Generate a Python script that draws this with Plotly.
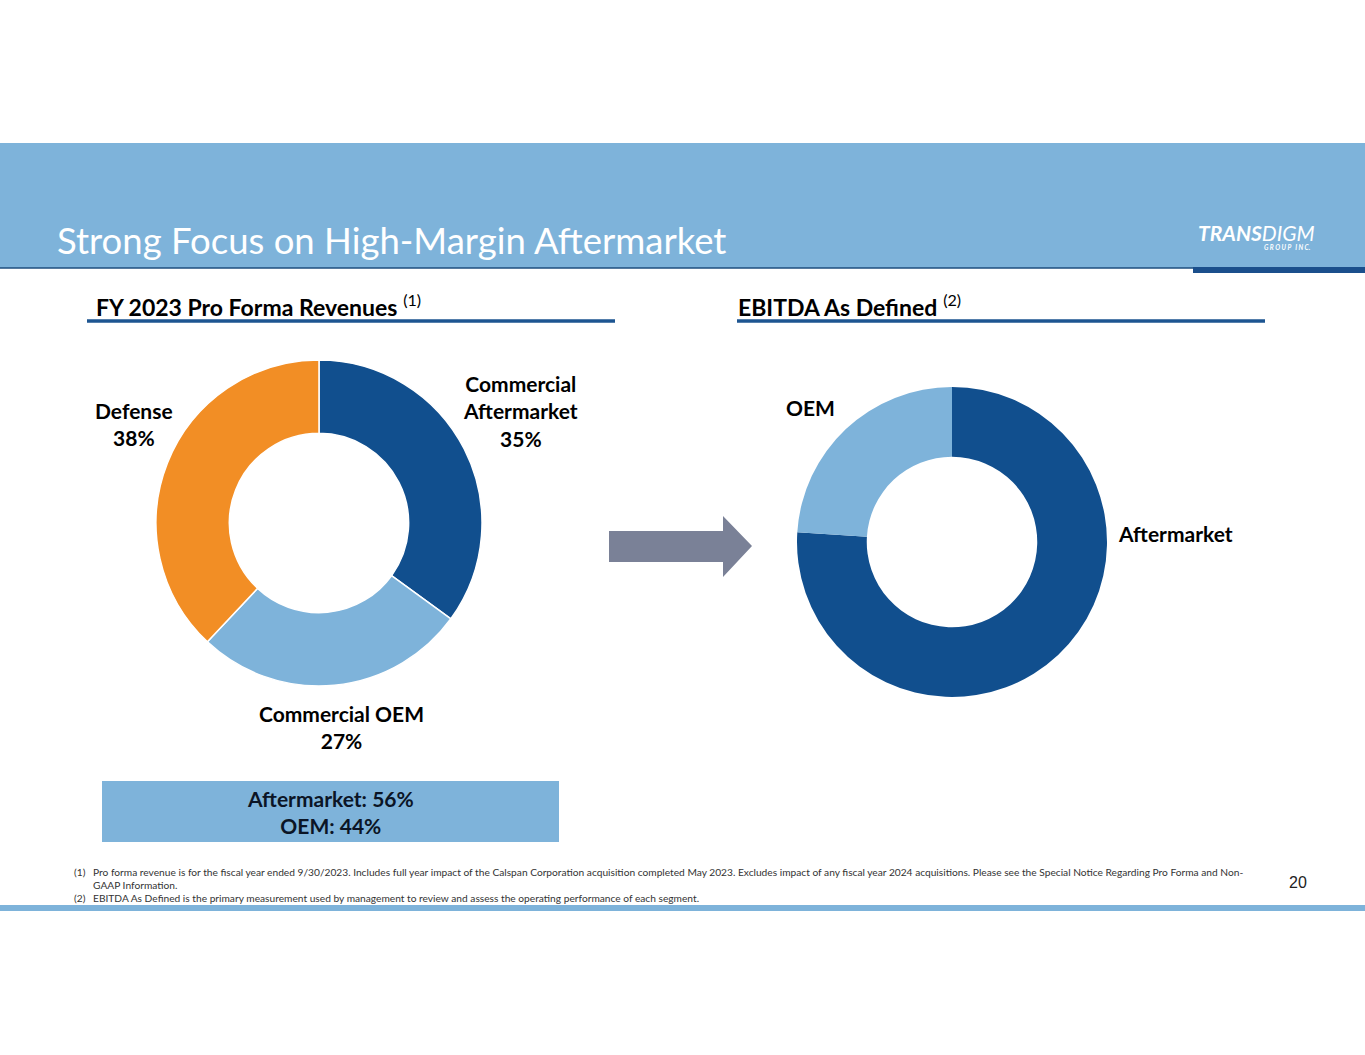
import plotly.graph_objects as go

W, H = 1365, 1055

# revenue mix (left donut) and EBITDA mix (right donut)
revLabels = ["Commercial Aftermarket", "Commercial OEM", "Defense"]
revValues = [35, 27, 38]
revColors = ["#114F8E", "#7EB3DA", "#F28E25"]

ebitdaLabels = ["Aftermarket", "OEM"]
ebitdaValues = [76, 24]
ebitdaColors = ["#114F8E", "#7EB3DA"]

boxLines = ["Aftermarket: 56%", "OEM: 44%"]

footnotes = [
    ("(1)", "Pro forma revenue is for the fiscal year ended 9/30/2023. Includes full year impact of the Calspan Corporation acquisition completed May 2023. Excludes impact of any fiscal year 2024 acquisitions. Please see the Special Notice Regarding Pro Forma and Non-<br>GAAP Information."),
    ("(2)", "EBITDA As Defined is the primary measurement used by management to review and assess the operating performance of each segment."),
]

FONT = "Lato"


def px(x):
    return x / W


def py(y):
    return 1 - y / H


fig = go.Figure()

fig.add_trace(go.Pie(
    labels=revLabels, values=revValues, hole=0.55, sort=False,
    direction="clockwise", rotation=0, textinfo="none", hoverinfo="label+percent",
    marker=dict(colors=revColors, line=dict(color="white", width=1.5)),
    domain=dict(x=[px(156), px(482)], y=[py(686), py(360)]),
    showlegend=False,
))
fig.add_trace(go.Pie(
    labels=ebitdaLabels, values=ebitdaValues, hole=0.55, sort=False,
    direction="clockwise", rotation=0, textinfo="none", hoverinfo="label+percent",
    marker=dict(colors=ebitdaColors, line=dict(width=0)),
    domain=dict(x=[px(797), px(1107)], y=[py(697), py(387)]),
    showlegend=False,
))

shapes = []
# header band
shapes.append(dict(type="rect", xref="paper", yref="paper", x0=0, x1=1, y0=py(268), y1=py(143),
                   fillcolor="#7EB3DA", line=dict(width=0), layer="below"))
shapes.append(dict(type="line", xref="paper", yref="paper", x0=0, x1=1, y0=py(268), y1=py(268),
                   line=dict(color="#1E4E7E", width=1.5)))
shapes.append(dict(type="rect", xref="paper", yref="paper", x0=px(1193), x1=1, y0=py(273), y1=py(267),
                   fillcolor="#1B4F8C", line=dict(width=0)))
# section underlines
for x0, x1 in [(87, 615), (737, 1265)]:
    shapes.append(dict(type="line", xref="paper", yref="paper", x0=px(x0), x1=px(x1), y0=py(321), y1=py(321),
                       line=dict(color="#1D5591", width=3.5)))
# summary box
shapes.append(dict(type="rect", xref="paper", yref="paper", x0=px(102), x1=px(559), y0=py(842), y1=py(781),
                   fillcolor="#7EB3DA", line=dict(width=0)))
# arrow
arrow = "M {} {} L {} {} L {} {} L {} {} L {} {} L {} {} L {} {} Z".format(
    px(609), py(531), px(723), py(531), px(723), py(516), px(752), py(546),
    px(723), py(577), px(723), py(562), px(609), py(562))
shapes.append(dict(type="path", xref="paper", yref="paper", path=arrow,
                   fillcolor="#7A8197", line=dict(width=0)))
# footer line
shapes.append(dict(type="rect", xref="paper", yref="paper", x0=0, x1=1, y0=py(911), y1=py(905),
                   fillcolor="#7EB3DA", line=dict(width=0)))

ann = []


def label(text, x, y, size=21, color="#000000", xanchor="center", yanchor="middle", align="center", family=FONT):
    ann.append(dict(text=text, x=px(x), y=py(y), xref="paper", yref="paper", showarrow=False,
                    xanchor=xanchor, yanchor=yanchor, align=align,
                    font=dict(family=family, size=size, color=color)))


label("Strong Focus on High-Margin Aftermarket", 55, 240, size=36.5, color="white", xanchor="left")
label("<b><i>TRANS</i></b><i>DIGM</i>", 1196, 232, size=21, color="white", xanchor="left")
label("<b><i>G R O U P   I N C.</i></b>", 1313, 248, size=6.5, color="white", xanchor="right")

label("<b>FY 2023 Pro Forma Revenues</b> <sup>(1)</sup>", 94, 305, size=23, xanchor="left")
label("<b>EBITDA As Defined</b> <sup>(2)</sup>", 736, 305, size=23, xanchor="left")

label("<b>Commercial<br>Aftermarket<br>35%</b>", 520, 411)
label("<b>Defense<br>38%</b>", 134, 424)
label("<b>Commercial OEM<br>27%</b>", 341, 727)
label("<b>OEM</b>", 810, 407)
label("<b>Aftermarket</b>", 1175, 533)

label("<b>" + "<br>".join(boxLines) + "</b>", 330, 812, size=21, color="#0B1526")

yy = 864
for num, txt in footnotes:
    label(num, 72, yy, size=10.2, color="#333333", xanchor="left", yanchor="top")
    label(txt, 91, yy, size=10.2, color="#333333", xanchor="left", yanchor="top", align="left")
    yy += 26
label("20", 1298, 882, size=16, color="#222222", family="Liberation Sans")

fig.update_layout(
    width=W, height=H, margin=dict(l=0, r=0, t=0, b=0),
    paper_bgcolor="white", plot_bgcolor="white",
    shapes=shapes, annotations=ann,
    font=dict(family=FONT),
)

fig.write_html("out.html", config={"displayModeBar": False},
               post_script="document.body.style.margin='0';document.body.style.padding='0';")
